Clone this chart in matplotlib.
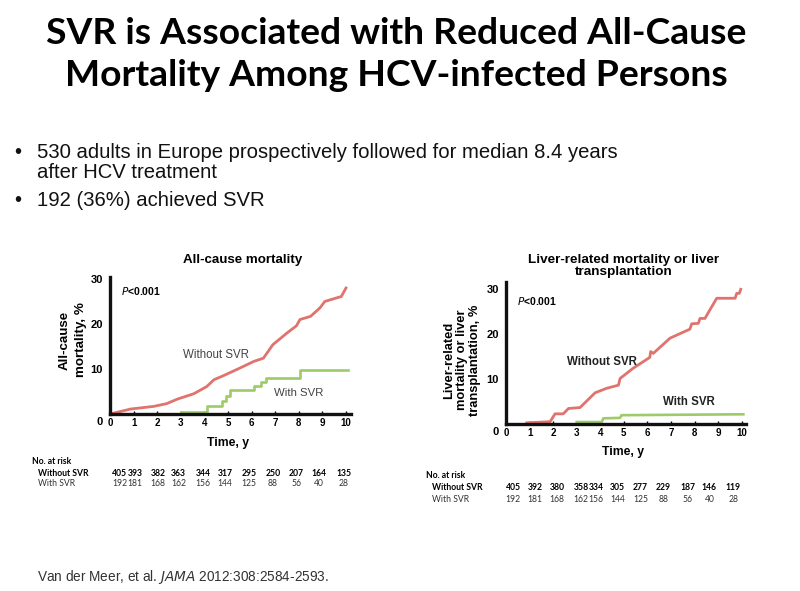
import matplotlib
matplotlib.use("Agg")
import matplotlib.pyplot as plt
from matplotlib.transforms import blended_transform_factory, offset_copy

# ---------------- data ----------------
# All-cause mortality (%), Kaplan-Meier style curves
allcause_nosvr_t = [0, 0.87, 1.86, 2.4, 2.85, 3.55, 4.1, 4.4, 4.8, 5.5, 6.1, 6.5, 6.9, 7.5, 7.9,
                    8.05, 8.5, 8.9, 9.1, 9.6, 9.8, 10.0]
allcause_nosvr_v = [0, 1.1, 1.7, 2.3, 3.3, 4.5, 6.1, 7.6, 8.5, 10.2, 11.7, 12.4, 15.4, 18.0, 19.6,
                    21.0, 21.7, 23.6, 25.0, 25.8, 26.1, 28.0]
allcause_svr_t = [3.0, 4.1, 4.1, 4.75, 4.75, 4.9, 4.9, 5.1, 5.1, 6.1, 6.1, 6.4, 6.4, 6.6, 6.6,
                  8.05, 8.05, 10.1]
allcause_svr_v = [0.5, 0.5, 1.85, 1.85, 2.8, 2.8, 3.9, 3.9, 5.3, 5.3, 6.3, 6.3, 7.1, 7.1, 8.1,
                  8.1, 9.85, 9.85]

# Liver-related mortality or liver transplantation (%)
liver_nosvr_t = [0.88, 1.87, 2.08, 2.43, 2.65, 3.14, 3.78, 4.27, 4.77, 4.84, 5.4, 6.1, 6.14, 6.25,
                 6.96, 7.8, 7.88, 8.16, 8.23, 8.44, 8.94, 9.72, 9.79, 9.9, 9.96]
liver_nosvr_v = [0.2, 0.45, 2.2, 2.2, 3.4, 3.6, 6.9, 7.9, 8.6, 10.1, 12.4, 14.8, 16.1, 15.7,
                 19.1, 21.1, 22.3, 22.4, 23.5, 23.5, 28.0, 28.0, 29.1, 29.1, 30.0]
liver_svr_t = [3.0, 4.06, 4.13, 4.84, 4.9, 10.07]
liver_svr_v = [0.37, 0.37, 1.2, 1.3, 1.9, 2.1]

# Numbers at risk
years = list(range(0, 11))
allcause_risk_nosvr = [405, 393, 382, 363, 344, 317, 295, 250, 207, 164, 135]
allcause_risk_svr = [192, 181, 168, 162, 156, 144, 125, 88, 56, 40, 28]
liver_risk_nosvr = [405, 392, 380, 358, 334, 305, 277, 229, 187, 146, 119]
liver_risk_svr = [192, 181, 168, 162, 156, 144, 125, 88, 56, 40, 28]

# text
title_lines = ["SVR is Associated with Reduced All-Cause",
               "Mortality Among HCV-infected Persons"]
bullet1 = ["530 adults in Europe prospectively followed for median 8.4 years",
           "after HCV treatment"]
bullet2 = "192 (36%) achieved SVR"

# ---------------- layout ----------------
W, H = 800, 591
RED = "#e0736d"
GREEN = "#9ccb68"
LABEL = "#444444"

fig = plt.figure(figsize=(W / 100, H / 100), dpi=100)
fig.patch.set_facecolor("white")

def fx(px):
    return px / W

def fy(py):
    return 1 - py / H

# Title
fig.text(fx(396), fy(34), title_lines[0], ha="center", va="center", fontsize=26.8,
         fontweight="bold", family="Lato")
fig.text(fx(396), fy(75), title_lines[1], ha="center", va="center", fontsize=26.8,
         fontweight="bold", family="Lato")

# Bullets
bfont = dict(family="Liberation Sans", fontsize=14.6, color="#111111", va="center")
fig.text(fx(14), fy(152), "\u2022", **bfont)
fig.text(fx(37), fy(152), bullet1[0], **bfont)
fig.text(fx(37), fy(173), bullet1[1], **bfont)
fig.text(fx(14), fy(200), "\u2022", **bfont)
fig.text(fx(37), fy(200), bullet2, **bfont)

# Citation
cfont = dict(family="Liberation Sans", fontsize=9.8, color="#333333", va="center")
fig.text(fx(37), fy(577), "Van der Meer, et al. $\\it{JAMA}$ 2012:308:2584-2593.", **cfont)


def make_axes(x0, x10, y0, y30, ytop):
    unit_x = (x10 - x0) / 10.0
    unit_y = (y0 - y30) / 30.0
    xmax = 10.2
    left = fx(x0)
    width = unit_x * xmax / W
    bottom = fy(y0)
    height = unit_y * ytop / H
    ax = fig.add_axes([left, bottom, width, height])
    ax.set_xlim(0, xmax)
    ax.set_ylim(0, ytop)
    for s in ["top", "right"]:
        ax.spines[s].set_visible(False)
    for s in ["left", "bottom"]:
        ax.spines[s].set_linewidth(2.4)
        ax.spines[s].set_color("#111111")
    ax.set_xticks(years)
    ax.set_xticklabels([str(y) for y in years], fontsize=7, fontweight="bold",
                       family="Liberation Sans")
    ax.set_yticks([10, 20, 30])
    ax.set_yticklabels(["10", "20", "30"], fontsize=8, fontweight="bold",
                       family="Liberation Sans")
    ax.tick_params(axis="x", length=2, width=1.0, pad=3, direction="in")
    ax.tick_params(axis="y", length=0, pad=5)
    ax.patch.set_alpha(0)
    # corner "0" for the y axis, at the level of the x tick labels
    tr = offset_copy(ax.transAxes, fig=fig, x=-10, y=-8, units="dots")
    ax.text(0, 0, "0", transform=tr, ha="center", va="center", fontsize=8,
            fontweight="bold", family="Liberation Sans")
    return ax


# ---- Left chart: all-cause mortality ----
axL = make_axes(110, 346, 414, 279, 30.5)
axL.plot(allcause_nosvr_t, allcause_nosvr_v, color=RED, lw=2.0)
axL.plot(allcause_svr_t, allcause_svr_v, color=GREEN, lw=1.9)
axL.text(0.45, 27.3, "$\\it{P}$<0.001", fontsize=7.5, fontweight="bold", va="center",
         family="Liberation Sans")
axL.text(4.5, 13.2, "Without SVR", fontsize=8.3, color=LABEL, ha="center", va="center",
         family="Liberation Sans")
axL.text(8.0, 4.7, "With SVR", fontsize=8.2, color=LABEL, ha="center", va="center",
         family="Liberation Sans")
fig.text(fx(243), fy(260), "All-cause mortality", ha="center", va="center", fontsize=9.6,
         fontweight="bold", family="Liberation Sans")
fig.text(fx(73), fy(340), "All-cause\nmortality, %", ha="center", va="center", fontsize=9.6,
         fontweight="bold", family="Liberation Sans", rotation=90, linespacing=1.45)
fig.text(fx(228), fy(443), "Time, y", ha="center", va="center", fontsize=8.8,
         fontweight="bold", family="Liberation Sans")

# ---- Right chart: liver-related mortality ----
axR = make_axes(506, 741.7, 423.7, 289.3, 31.7)
axR.plot(liver_nosvr_t, liver_nosvr_v, color=RED, lw=2.0)
axR.plot(liver_svr_t, liver_svr_v, color=GREEN, lw=1.9)
axR.text(0.45, 27.3, "$\\it{P}$<0.001", fontsize=7.5, fontweight="bold", va="center",
         family="Liberation Sans")
axR.text(4.06, 13.8, "Without SVR", fontsize=8.3, fontweight="bold", color="#222222",
         ha="center", va="center", family="Liberation Sans")
axR.text(7.74, 4.9, "With SVR", fontsize=8.3, fontweight="bold", color="#222222",
         ha="center", va="center", family="Liberation Sans")
fig.text(fx(624), fy(266), "Liver-related mortality or liver\ntransplantation", ha="center",
         va="center", fontsize=9.7, fontweight="bold", family="Liberation Sans",
         linespacing=1.05)
fig.text(fx(462), fy(360), "Liver-related\nmortality or liver\ntransplantation, %",
         ha="center", va="center", fontsize=9.3, fontweight="bold", family="Liberation Sans",
         rotation=90, linespacing=1.15)
fig.text(fx(623), fy(452), "Time, y", ha="center", va="center", fontsize=8.8,
         fontweight="bold", family="Liberation Sans")

# ---- Numbers at risk tables ----
left_cols = [0.4, 1.07, 2.03, 2.9, 3.94, 4.87, 5.9, 6.9, 7.9, 8.86, 9.9]
right_cols = [0.3, 1.23, 2.16, 3.18, 3.82, 4.73, 5.71, 6.68, 7.7, 8.63, 9.65]
tfont = dict(family="Lato", fontsize=6.2)


def risk_table(ax, cols, row1, row2, x_head, y_head, y1, y2):
    fig.text(fx(x_head - 6), fy(y_head), "No. at risk", fontweight="bold", va="center",
             **tfont)
    fig.text(fx(x_head), fy(y1), "Without SVR", fontweight="bold", va="center", **tfont)
    fig.text(fx(x_head), fy(y2), "With SVR", va="center", color="#333333", **tfont)
    tr1 = blended_transform_factory(ax.transData, fig.transFigure)
    for c, n1, n2 in zip(cols, row1, row2):
        ax.text(c, fy(y1), str(n1), transform=tr1, ha="center", va="center",
                fontweight="bold", **tfont)
        ax.text(c, fy(y2), str(n2), transform=tr1, ha="center", va="center",
                color="#333333", **tfont)


risk_table(axL, left_cols, allcause_risk_nosvr, allcause_risk_svr, 38, 462, 473, 484)
risk_table(axR, right_cols, liver_risk_nosvr, liver_risk_svr, 432, 475, 487, 500)

fig.savefig("out.png", dpi=100, facecolor="white")
